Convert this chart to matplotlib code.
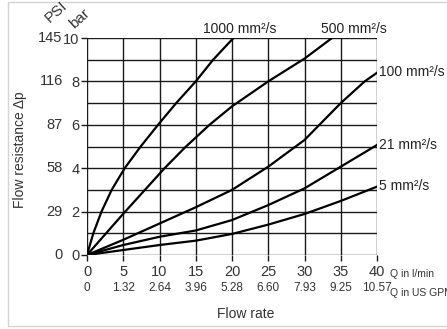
"""Flow resistance vs flow rate chart (bar / PSI, l/min / US GPM)."""

import matplotlib
matplotlib.use("Agg")
import matplotlib.pyplot as plt
from matplotlib.patches import Rectangle

plt.rcParams['font.family'] = ['Liberation Sans', 'DejaVu Sans']

W, H = 447, 329

# ── data ───────────────────────────────────────────────────────────────────
q1000 = [0, 0.87, 2.0, 3.4, 5.2, 7.4, 9.8, 12.3, 15, 17.4, 20.2]
p1000 = [0, 1, 2, 3, 4, 5, 6, 7, 8, 9, 10]

q500 = [0, 5, 10.7, 13.5, 16.9, 20, 25, 30, 33.8]
p500 = [0, 1.9, 4.0, 4.95, 6.0, 6.85, 8.0, 9.05, 10]

q100 = [0, 5, 10, 15, 20, 25, 30, 35, 38.3, 40]
p100 = [0, 0.7, 1.45, 2.2, 3.0, 4.07, 5.3, 7.0, 8.0, 8.4]

q21 = [0, 5, 10, 15, 20, 25, 30, 35, 40]
p21 = [0, 0.46, 0.84, 1.13, 1.61, 2.3, 3.07, 4.07, 5.07]

q5 = [0, 5, 10, 15, 20, 25, 30, 35, 40]
p5 = [0, 0.23, 0.46, 0.66, 0.97, 1.4, 1.89, 2.49, 3.15]

curve_labels = ["1000 mm²/s", "500 mm²/s", "100 mm²/s", "21 mm²/s", "5 mm²/s"]

bar_ticks = [0, 2, 4, 6, 8, 10]
psi_labels = ["0", "29", "58", "87", "116", "145"]
lpm_ticks = [0, 5, 10, 15, 20, 25, 30, 35, 40]
gpm_labels = ["0", "1.32", "2.64", "3.96", "5.28", "6.60", "7.93", "9.25", "10.57"]

# ── figure ─────────────────────────────────────────────────────────────────
fig = plt.figure(figsize=(W / 100, H / 100), dpi=100)

def px(x, y):
    return x / W, 1 - y / H

# light frame round the picture
fig.patches.append(Rectangle(px(8, 326), (W - 8 + 5) / W, (326 - 2) / H,
                             transform=fig.transFigure, fill=False,
                             edgecolor='#d4d4d4', lw=1.0))

x0, x1, y0, y1 = 87, 377, 255, 38
ax = fig.add_axes([x0 / W, 1 - y0 / H, (x1 - x0) / W, (y0 - y1) / H])
ax.set_xlim(0, 40)
ax.set_ylim(0, 10)

# grid: every 5 l/min, every 1 bar
for q in range(0, 45, 5):
    ax.axvline(q, color='#1a1a1a', lw=1.0, zorder=1)
for b in range(0, 11):
    ax.axhline(b, color='#1a1a1a', lw=1.0, zorder=1)

for sp in ax.spines.values():
    sp.set_visible(False)

for q, p in [(q1000, p1000), (q500, p500), (q100, p100), (q21, p21), (q5, p5)]:
    ax.plot(q, p, color='black', lw=1.6, zorder=3, clip_on=True,
            solid_joinstyle='round')

ax.set_xticks(lpm_ticks)
ax.set_xticklabels([str(t) for t in lpm_ticks], fontsize=10.5)
ax.set_yticks(bar_ticks)
ax.set_yticklabels([str(t) for t in bar_ticks], fontsize=10.5)
ax.tick_params(axis='both', direction='out', length=4, width=1.0,
               color='#1a1a1a', colors='#333333')
ax.tick_params(axis='y', pad=1.5)
ax.tick_params(axis='x', pad=3)

# PSI column
for b, lab in zip(bar_ticks, psi_labels):
    ax.annotate(lab, xy=(0, b), xycoords=('axes fraction', 'data'),
                xytext=(-17.5, 0), textcoords='offset points',
                ha='right', va='center', fontsize=10.5, color='#333333')

# US GPM row
for q, lab in zip(lpm_ticks, gpm_labels):
    ax.annotate(lab, xy=(q, 0), xycoords=('data', 'axes fraction'),
                xytext=(0, -24), textcoords='offset points',
                ha='center', va='center', fontsize=8.5, color='#333333')

fig.text(*px(390, 274), "Q in l/min", fontsize=7.5, color='#333333',
         ha='left', va='center')
fig.text(*px(390, 293), "Q in US GPM", fontsize=7.5, color='#333333',
         ha='left', va='center')

fig.text(*px(56, 12), "PSI", fontsize=11, rotation=42, color='#333333',
         ha='center', va='center')
fig.text(*px(80, 19), "bar", fontsize=11, rotation=42, color='#333333',
         ha='center', va='center')

fig.text(*px(246, 314), "Flow rate", fontsize=10, color='#333333',
         ha='center', va='center')
fig.text(*px(20, 150), "Flow resistance Δp", fontsize=10, color='#333333',
         rotation=90, ha='center', va='center')

# curve names
label_pos = [(240, 29, 'center'), (354, 29, 'center'), (379, 72, 'left'),
             (379, 145, 'left'), (379, 186, 'left')]
for lab, (x, y, ha) in zip(curve_labels, label_pos):
    fig.text(*px(x, y), lab, fontsize=10, color='#222222', ha=ha, va='center')

fig.savefig("out.png", dpi=100)
